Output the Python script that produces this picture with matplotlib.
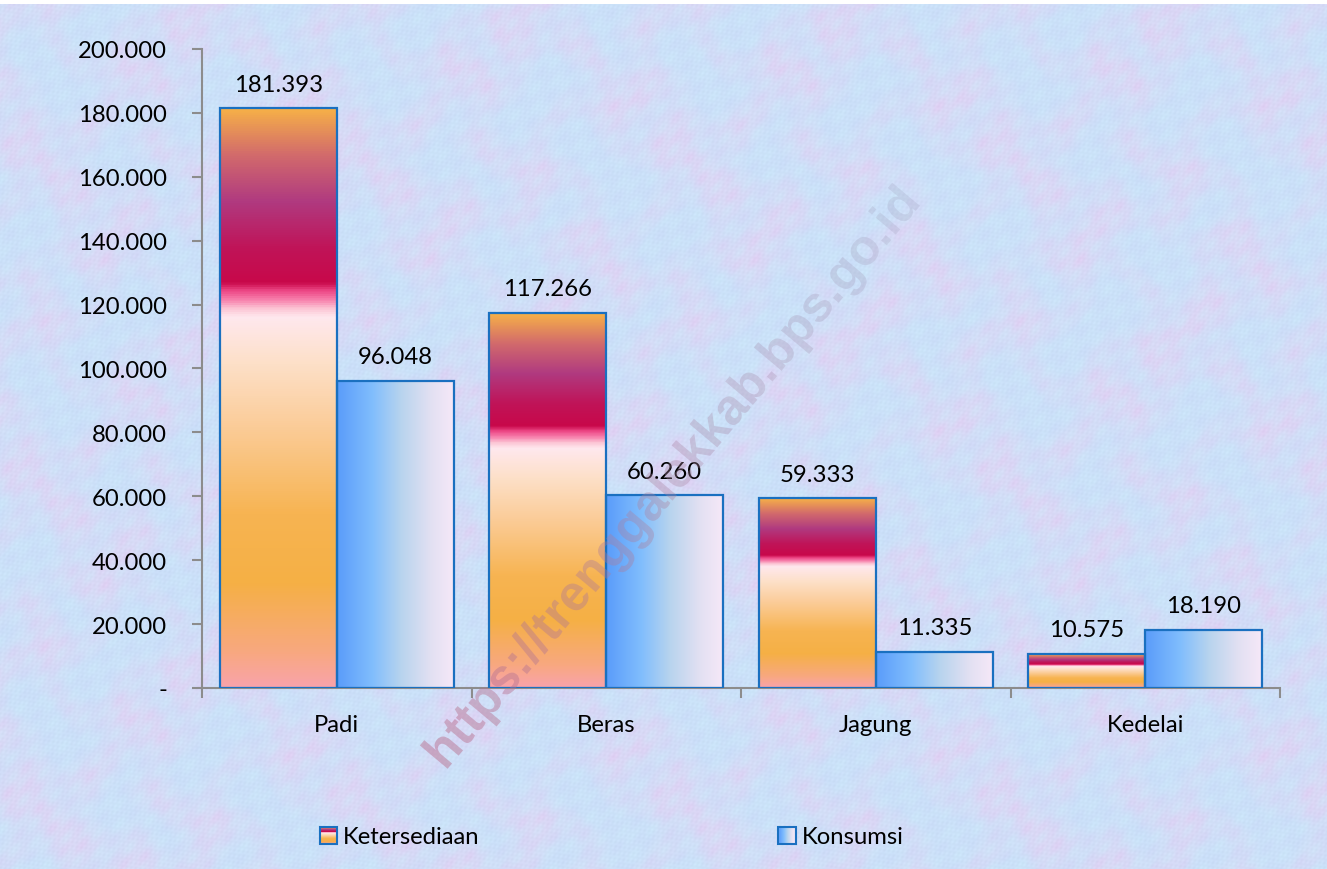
import numpy as np
import matplotlib
matplotlib.use("Agg")
import matplotlib.pyplot as plt
from matplotlib.colors import LinearSegmentedColormap
from matplotlib.patches import Rectangle, PathPatch
from matplotlib.legend_handler import HandlerBase
from matplotlib.textpath import TextPath
from matplotlib.font_manager import FontProperties
from matplotlib.transforms import Affine2D

plt.rcParams['font.family'] = ['Lato', 'DejaVu Sans']

kategori = ['Padi', 'Beras', 'Jagung', 'Kedelai']
ketersediaan = [181393, 117266, 59333, 10575]
konsumsi = [96048, 60260, 11335, 18190]
yticks = [0, 20000, 40000, 60000, 80000, 100000, 120000, 140000, 160000, 180000, 200000]
FS = 17.2


def fmt(v):
    if v == 0:
        return '-'
    return f"{v:,}".replace(",", ".")


# warna gradasi batang
ket_cmap = LinearSegmentedColormap.from_list('ket', [
    (0.00, '#f9a3ab'), (0.06, '#f8a880'), (0.18, '#f5b045'), (0.30, '#f7b452'),
    (0.45, '#fbcc98'), (0.56, '#fde0c8'), (0.64, '#ffe8ee'), (0.655, '#fcc4d4'),
    (0.67, '#f780ac'), (0.685, '#ee4a88'), (0.70, '#c8084a'), (0.76, '#c01458'),
    (0.84, '#b03a80'), (0.92, '#d26a6c'), (1.00, '#f6b048')])
kon_cmap = LinearSegmentedColormap.from_list('kon', [
    (0.0, '#5a9cfa'), (0.3, '#80bdfd'), (0.55, '#b8d4ee'), (0.8, '#e2e0f2'), (1.0, '#f6e8f8')])
edge = '#1a70c0'

W, H = 1327, 870
fig = plt.figure(figsize=(W / 100, H / 100), dpi=100)

# latar bertekstur
bg = fig.add_axes([0, 0, 1, 1 - 5 / H])
hb = H - 5
yy, xx = np.mgrid[0:hb, 0:W].astype(float)
u = (xx % 325) / 325 * 2 * np.pi
v = yy / 325 * 2 * np.pi
t1 = np.sin(u * 2 + np.sin(v * 3)) * np.cos(v * 2 + np.sin(u * 3))
t2 = np.sin(u * 7 + v * 5) * np.sin(v * 9 - u * 4) * 0.6 + np.sin(u * 23 + v * 17) * 0.25
t3 = np.sin(u * 41 - v * 37) * np.sin(u * 29 + v * 43) * 0.4 + np.sin(u * 67 + v * 59) * 0.2
base = np.array([202, 220, 248]) / 255
pink = np.array([228, 204, 242]) / 255
cyan = np.array([205, 236, 250]) / 255
a = np.clip(0.3 + 0.55 * t1, 0, 1)[..., None]
b = np.clip(0.5 + 0.5 * t2, 0, 1)[..., None]
img = base * (1 - a) + pink * a
img = img * (1 - b * 0.6) + cyan * b * 0.6
img = img + (t3[..., None] * 0.025)
img = np.clip(img, 0, 1)
bg.imshow(img, aspect='auto', interpolation='bilinear')
bg.axis('off')

ax = fig.add_axes([202 / W, 1 - 689 / H, (1280 - 202) / W, (689 - 50) / H])
ax.set_facecolor('none')

x = np.arange(len(kategori))
w = 0.434
off = 0.217
bars_k = ax.bar(x - off, ketersediaan, w, facecolor='none', edgecolor=edge, linewidth=1.6, zorder=3)
bars_c = ax.bar(x + off, konsumsi, w, facecolor='none', edgecolor=edge, linewidth=1.6, zorder=3)

grad_v = np.linspace(0, 1, 512).reshape(-1, 1)
grad_h = np.linspace(0, 1, 256).reshape(1, -1)
for bar in bars_k:
    x0, h = bar.get_x(), bar.get_height()
    im = ax.imshow(grad_v, cmap=ket_cmap, origin='lower', aspect='auto',
                   extent=[x0, x0 + bar.get_width(), 0, h], zorder=2)
    im.set_clip_path(bar)
for bar in bars_c:
    x0, h = bar.get_x(), bar.get_height()
    im = ax.imshow(grad_h, cmap=kon_cmap, origin='lower', aspect='auto',
                   extent=[x0, x0 + bar.get_width(), 0, h], zorder=2)
    im.set_clip_path(bar)

for bars in (bars_k, bars_c):
    for bar in bars:
        ax.annotate(fmt(bar.get_height()), (bar.get_x() + bar.get_width() / 2, bar.get_height()),
                    xytext=(0, 10), textcoords='offset points', ha='center', va='bottom',
                    fontsize=FS, color='black', zorder=5)

ax.set_xlim(-0.5, len(kategori) - 0.5)
ax.set_ylim(0, 200000)
ax.set_yticks(yticks)
ax.set_yticklabels([fmt(t) for t in yticks])
ax.set_xticks(x)
ax.set_xticklabels(kategori)
ax.set_xticks(np.arange(len(kategori) + 1) - 0.5, minor=True)
ax.tick_params(axis='x', which='major', length=0, pad=19, labelsize=FS)
ax.tick_params(axis='x', which='minor', length=7, width=1.5, color='#8c8c8c')
ax.tick_params(axis='y', length=7, width=1.5, color='#8c8c8c', pad=18, labelsize=FS)
for s in ('top', 'right'):
    ax.spines[s].set_visible(False)
for s in ('left', 'bottom'):
    ax.spines[s].set_color('#8c8c8c')
    ax.spines[s].set_linewidth(1.5)


class GradHandler(HandlerBase):
    def __init__(self, cmap, vertical):
        super().__init__()
        self.cmap = cmap
        self.vertical = vertical

    def create_artists(self, legend, orig_handle, xdescent, ydescent, width, height, fontsize, trans):
        n = 16
        arts = []
        for i in range(n):
            c = self.cmap((i + 0.5) / n)
            if self.vertical:
                r = Rectangle((-xdescent, -ydescent + height * i / n), width, height / n,
                              facecolor=c, edgecolor='none', transform=trans)
            else:
                r = Rectangle((-xdescent + width * i / n, -ydescent), width / n, height,
                              facecolor=c, edgecolor='none', transform=trans)
            arts.append(r)
        arts.append(Rectangle((-xdescent, -ydescent), width, height, facecolor='none',
                              edgecolor=edge, linewidth=1.5, transform=trans))
        return arts


hk = Rectangle((0, 0), 1, 1)
hc = Rectangle((0, 0), 1, 1)
fig.legend([hk, hc], ['Ketersediaan', 'Konsumsi'],
           handler_map={hk: GradHandler(ket_cmap, True), hc: GradHandler(kon_cmap, False)},
           loc='center left', bbox_to_anchor=(320 / W, 1 - 838 / H), ncol=2,
           frameon=False, fontsize=FS, handlelength=0.72, handleheight=0.72,
           handletextpad=0.25, columnspacing=12.5, borderpad=0, borderaxespad=0)

# watermark miring, memudar ke kanan atas
ov = fig.add_axes([0, 0, 1, 1], zorder=10)
ov.set_xlim(0, W)
ov.set_ylim(0, H)
ov.axis('off')
ov.patch.set_alpha(0)
tp = TextPath((0, 0), 'https://trenggalekkab.bps.go.id', size=50,
              prop=FontProperties(family='Liberation Sans', weight='bold'))
ext = tp.get_extents()
cx, cy = (ext.x0 + ext.x1) / 2, (ext.y0 + ext.y1) / 2
tr = Affine2D().translate(-cx, -cy).rotate_deg(50).translate(674, H - 480)
wm = PathPatch(tr.transform_path(tp), facecolor='none', edgecolor='none', transform=ov.transData)
ov.add_patch(wm)
gy, gx = np.mgrid[0:H:2, 0:W:2].astype(float)
s = np.clip(((gx - 420) * 0.64 + (gy - 80) * 0.77) / 820, 0, 1)
rgba = np.zeros(gx.shape + (4,))
rgba[..., 0] = (185 - 30 * s) / 255
rgba[..., 1] = (105 + 55 * s) / 255
rgba[..., 2] = (135 + 55 * s) / 255
rgba[..., 3] = 0.48 - 0.26 * s
wim = ov.imshow(rgba, origin='lower', extent=[0, W, 0, H], aspect='auto', interpolation='bilinear')
wim.set_clip_path(wm)

fig.savefig('out.png', dpi=100)
